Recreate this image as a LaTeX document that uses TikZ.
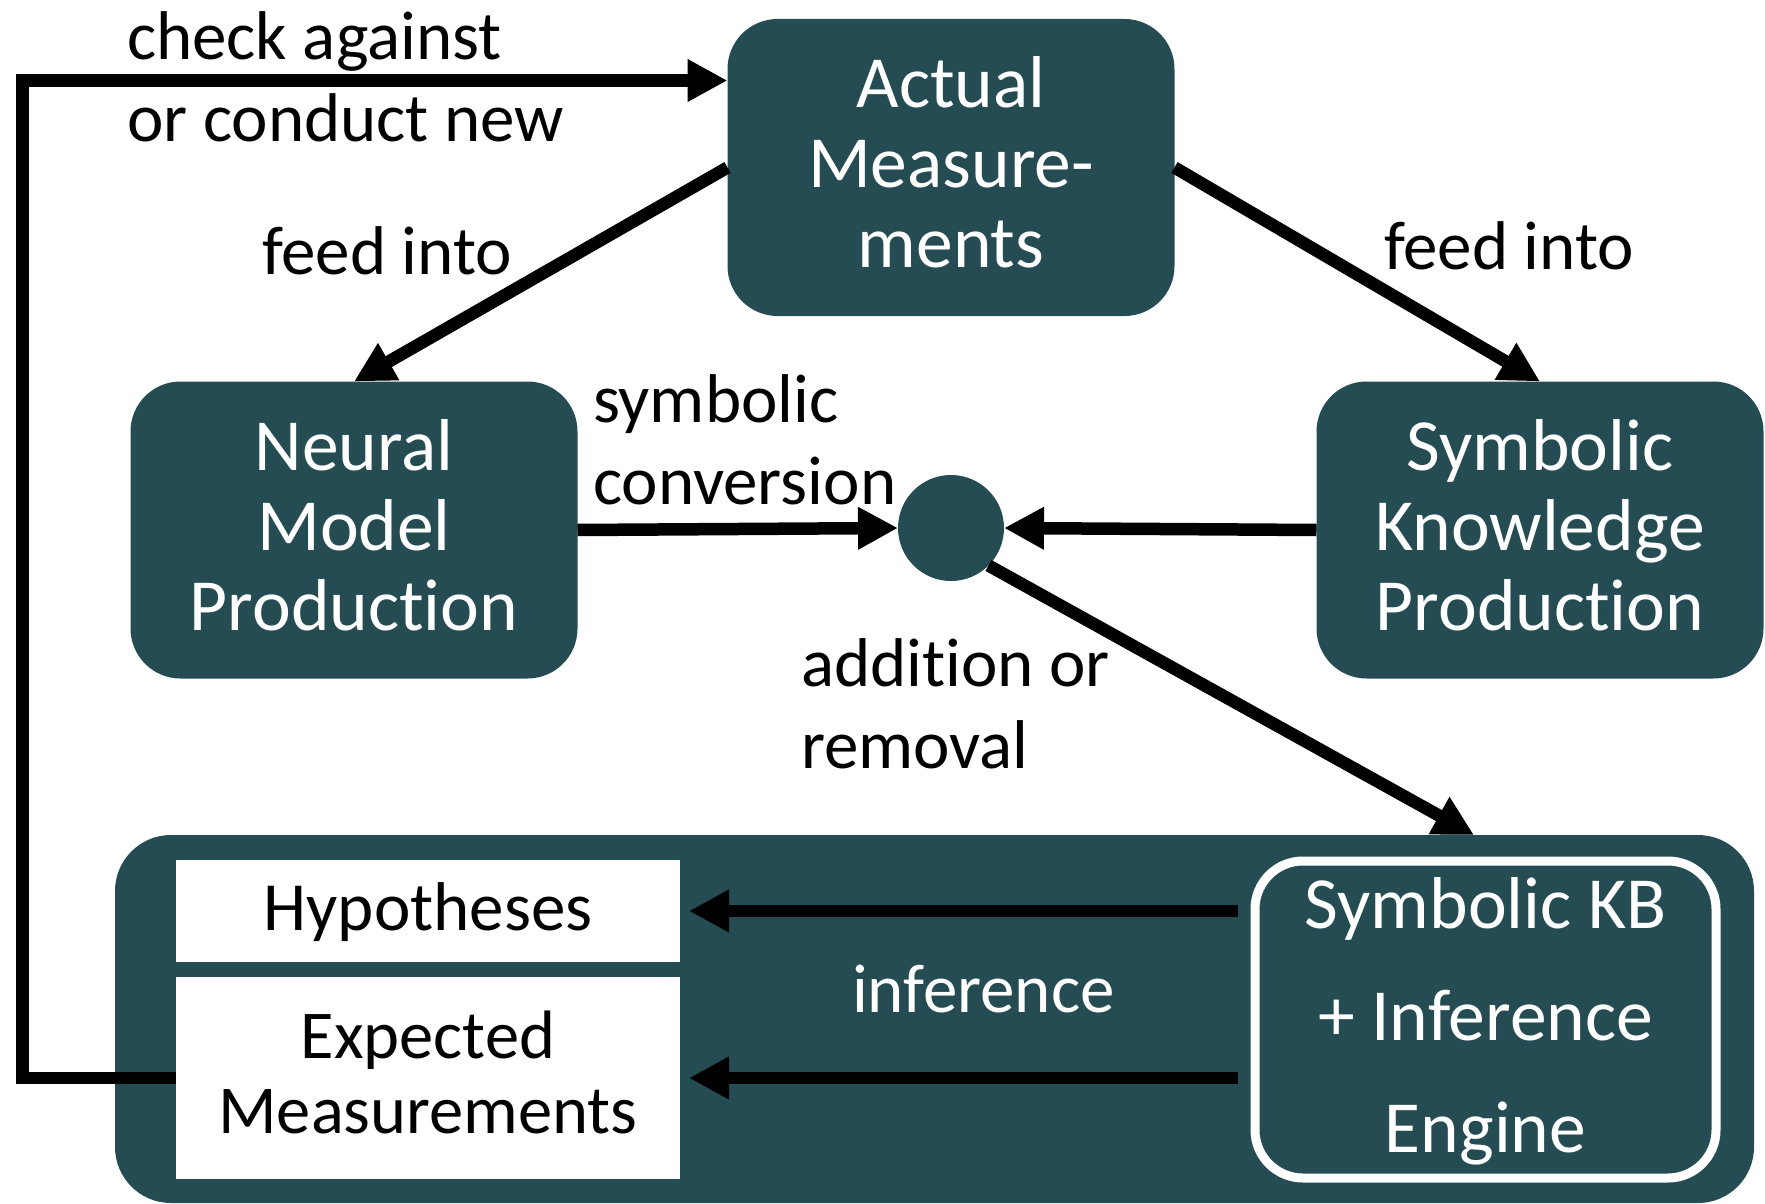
\documentclass[tikz,border=0pt]{standalone}
\usepackage{fontspec}
\setmainfont{Carlito}[Ligatures=NoCommon]
\usetikzlibrary{arrows.meta}

\definecolor{boxteal}{RGB}{36,76,82}

% font sizes (picture is laid out in points, 1pt = 1 unit)
\newcommand{\fBox}{\fontsize{73.5}{80}\selectfont}
\newcommand{\fEngine}{\fontsize{73.5}{112}\selectfont}
\newcommand{\fLabel}{\fontsize{69}{82}\selectfont}
\newcommand{\fExp}{\fontsize{68.5}{75}\selectfont}

% stacked lines whose baseline is the first line
\newcommand{\cLines}[1]{\begin{tabular}[t]{@{}c@{}}#1\end{tabular}}
\newcommand{\lLines}[1]{\begin{tabular}[t]{@{}l@{}}#1\end{tabular}}

\begin{document}
\begin{tikzpicture}[x=1pt, y=-1pt, inner sep=0pt, outer sep=0pt, line join=miter,
  procbox/.style={fill=boxteal, rounded corners=50pt, text=white, font=\fBox,
    minimum width=447pt, minimum height=297pt, text height=0pt, text depth=120pt},
  note/.style={font=\fLabel, anchor=base west},
  flow/.style={line width=12.5pt, -{Triangle[length=40pt, width=40pt]}}]

\useasboundingbox (0,0) rectangle (1765,1204);

% process boxes
\node[procbox, text depth=119pt] (am) at (951,167.5) {\cLines{Actual\\Measure-\\ments}};
\node[procbox] (nmp) at (354,530) {\cLines{Neural\\Model\\Production}};
\node[procbox] (skp) at (1540,530) {\cLines{Symbolic\\Knowledge\\Production}};
\node[circle, fill=boxteal, minimum size=106pt] (join) at (951,528) {};

% knowledge base container
\node[fill=boxteal, rounded corners=56pt, minimum width=1639pt, minimum height=368pt] (kb) at (934.5,1019) {};
\node[fill=white, minimum width=504pt, minimum height=102pt, font=\fLabel,
  text height=38pt, text depth=0pt] (hyp) at (428,911) {Hypotheses};
\node[fill=white, minimum width=504pt, minimum height=202pt, font=\fExp,
  text height=0pt, text depth=40pt] (exp) at (428,1078) {\cLines{Expected\\Measurements}};
\node[draw=white, line width=9pt, rounded corners=48pt, minimum width=461pt, minimum height=317pt,
  text=white, font=\fEngine, text height=0pt, text depth=183pt] (engine) at (1485.5,1019.5)
  {\cLines{Symbolic KB\\+ Inference\\Engine}};

% edge labels
\node[note] (lcheck) at (127,60) {\lLines{check against\\or conduct new}};
\node[note] (lfeedl) at (262,274) {feed into};
\node[note] (lfeedr) at (1384,269) {feed into};
\node[note] (lsym) at (593,422) {\lLines{symbolic\\conversion}};
\node[note] (ladd) at (801,686) {\lLines{addition or\\removal}};
\node[note, text=white] (linf) at (852,1012) {inference};

% connectors
\coordinate (loop) at (22.7,80.5);
\coordinate (dropx) at (1474,0);
\coordinate (drop) at (dropx |- kb.north);

\draw[flow] (am.west) -- (nmp.north);
\draw[flow] (am.east) -- (skp.north);
\draw[flow] (nmp.east) -- (join.west);
\draw[flow] (skp.west) -- (join.east);
\draw[flow] (join.south east) -- (drop);
\draw[flow, shorten <=17pt, shorten >=9pt] (engine.west |- hyp.east) -- (hyp.east);
\draw[flow, shorten <=17pt, shorten >=9pt] (engine.west |- exp.east) -- (exp.east);
\draw[flow] (exp.west) -| (loop) -- (loop -| am.west);

\end{tikzpicture}
\end{document}
